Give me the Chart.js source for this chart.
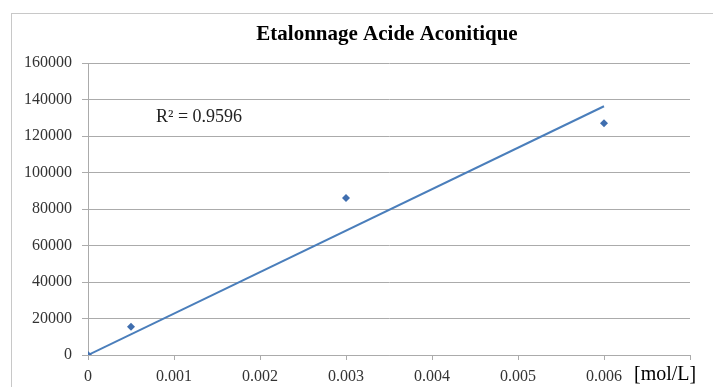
<!DOCTYPE html>
<html>
<head>
<meta charset="utf-8">
<script src="https://cdn.jsdelivr.net/npm/chart.js@4"></script>
<style>
    html, body { margin: 0; padding: 0; background: #fff; }
    #wrap { width: 713px; height: 387px; }
</style>
</head>
<body>
<div id="wrap"><canvas id="calChart" width="713" height="387"></canvas></div>
<script>
// Measured points (concentration in mol/L, peak area)
const concentrations = [0, 0.0005, 0.003, 0.006];
const areas = [0, 15500, 86000, 127000];

// Trend line ends
const trendX = [0, 0.006];
const trendY = [0, 136300];

const xTicks = [0, 0.001, 0.002, 0.003, 0.004, 0.005, 0.006, 0.007];
const yTicks = [0, 20000, 40000, 60000, 80000, 100000, 120000, 140000, 160000];

const titleText = 'Etalonnage Acide Aconitique';
const r2Text = 'R\u00B2 = 0.9596';
const unitText = '[mol/L]';

const gridGray = '#ababab';
const serif = "'Liberation Serif', 'DejaVu Serif', serif";

// Frame and extra text drawn on the canvas
const decorations = {
    id: 'decorations',
    beforeDraw(chart) {
        const c = chart.ctx;
        c.save();
        c.fillStyle = '#fff';
        c.fillRect(0, 0, chart.width, chart.height);
        c.strokeStyle = '#c8c8c8';
        c.lineWidth = 1;
        c.strokeRect(11.5, 13.5, 720, 400);
        c.restore();
    },
    afterDraw(chart) {
        const c = chart.ctx;
        c.save();
        c.fillStyle = '#000';
        c.textAlign = 'center';
        c.textBaseline = 'middle';
        c.font = 'bold 21px ' + serif;
        c.fillText(titleText, 387, 35);
        c.textAlign = 'left';
        c.fillStyle = '#222';
        c.font = '18px ' + serif;
        c.fillText(r2Text, 156, 117);
        c.fillStyle = '#000';
        c.font = '20px ' + serif;
        c.fillText(unitText, 634, 375);
        c.restore();
    }
};

document.addEventListener('DOMContentLoaded', () => {
    const ctx = document.getElementById('calChart').getContext('2d');
    new Chart(ctx, {
        type: 'scatter',
        data: {
            datasets: [
                {
                    label: 'Points',
                    data: concentrations.map((x, i) => ({ x: x, y: areas[i] })),
                    pointStyle: 'rectRot',
                    pointRadius: 4,
                    backgroundColor: '#3f6eaf',
                    borderColor: '#3f6eaf',
                    borderWidth: 0
                },
                {
                    label: 'Trend',
                    type: 'line',
                    data: trendX.map((x, i) => ({ x: x, y: trendY[i] })),
                    borderColor: '#4a7ebb',
                    borderWidth: 2,
                    pointRadius: 0,
                    fill: false
                }
            ]
        },
        options: {
            responsive: false,
            animation: false,
            layout: { padding: { top: 63, right: 23, left: 0, bottom: 0 } },
            plugins: {
                legend: { display: false },
                title: { display: false },
                tooltip: { enabled: false }
            },
            scales: {
                x: {
                    type: 'linear',
                    min: 0,
                    max: 0.007,
                    afterBuildTicks: axis => { axis.ticks = xTicks.map(v => ({ value: v })); },
                    afterFit: axis => { axis.height = 32; },
                    grid: { drawOnChartArea: false, drawTicks: true, tickLength: 5, color: gridGray },
                    border: { display: true, color: gridGray },
                    ticks: {
                        padding: 7,
                        color: '#333',
                        font: { family: serif, size: 16 },
                        maxRotation: 0,
                        callback: v => (v === 0 ? '0' : (v > 0.0065 ? '' : v.toFixed(3)))
                    }
                },
                y: {
                    type: 'linear',
                    min: 0,
                    max: 160000,
                    afterBuildTicks: axis => { axis.ticks = yTicks.map(v => ({ value: v })); },
                    afterFit: axis => { axis.width = 88; },
                    grid: { drawTicks: true, tickLength: 6, color: gridGray },
                    border: { display: true, color: gridGray },
                    ticks: {
                        padding: 10,
                        color: '#333',
                        font: { family: serif, size: 16 },
                        callback: v => String(v)
                    }
                }
            }
        },
        plugins: [decorations]
    });
});
</script>
</body>
</html>
